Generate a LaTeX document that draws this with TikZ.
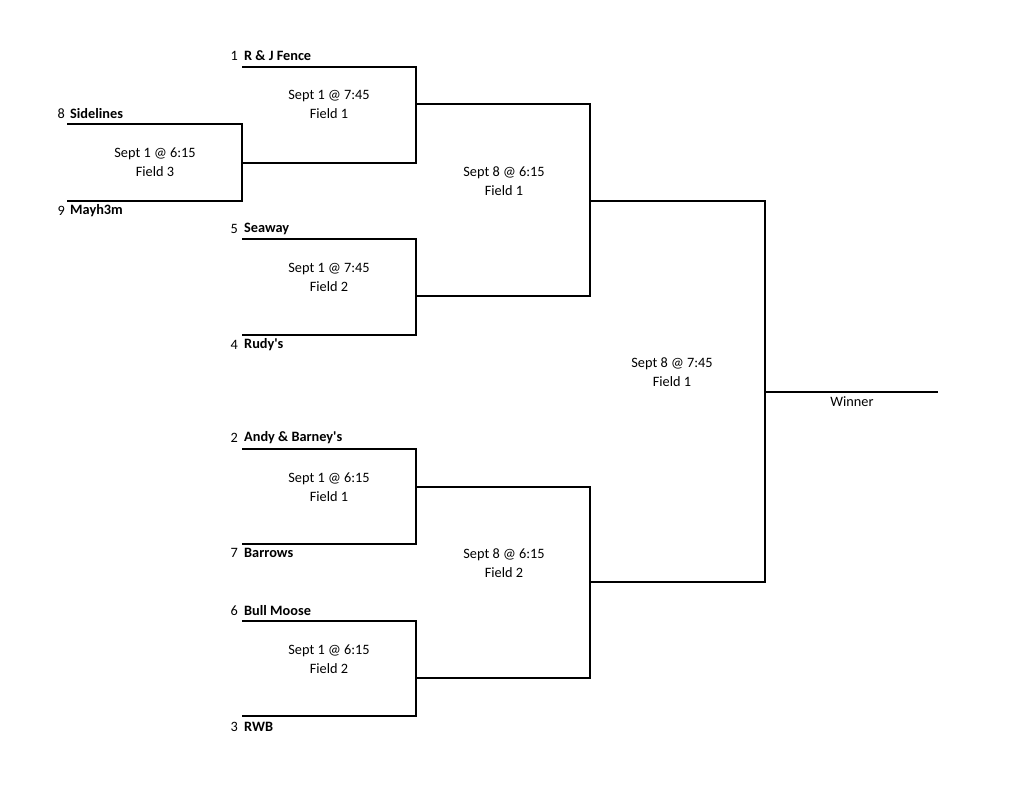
\documentclass[tikz,border=0pt]{standalone}
\usepackage{fontspec}
\setmainfont{Carlito}
\begin{document}
\begin{tikzpicture}[x=1pt,y=-1pt,
  bline/.style={line width=2.7pt, line join=miter},
  txt/.style={inner sep=0pt, font=\fontsize{14.3}{19}\selectfont},
  seed/.style={txt, anchor=east},
  team/.style={txt, anchor=west, font=\fontsize{14.3}{19}\selectfont\bfseries},
  game/.style={txt, align=center}]
\useasboundingbox (0,0) rectangle (1024,791);
% --- round 0: Sidelines vs Mayh3m
\node[seed] (n8) at (65,114) {8};
\node[team] (t8) at (70,114) {Sidelines};
\node[seed] (n9) at (65,211) {9};
\node[team] (t9) at (70,211) {Mayh3m};
\node[game] (g0) at (155,162) {Sept 1 @ 6:15\\Field 3};
\coordinate (a8) at (67,124); \coordinate (b8) at (242,124);
\coordinate (a9) at (67,201); \coordinate (b9) at (242,201);
\draw[bline] (a8) -- (b8) -- (b9) -- (a9);
% --- round 1 top
\node[seed] (n1) at (238,56) {1};
\node[team] (t1) at (244,56) {R \& J Fence};
\node[game] (g1) at (329,104) {Sept 1 @ 7:45\\Field 1};
\coordinate (a1) at (242,67); \coordinate (b1) at (416,67);
\coordinate (a89) at (242,163); \coordinate (b89) at (416,163);
\draw[bline] (a1) -- (b1) -- (b89) -- (a89);
\node[seed] (n5) at (238,229) {5};
\node[team] (t5) at (244,229) {Seaway};
\node[seed] (n4) at (238,345) {4};
\node[team] (t4) at (244,345) {Rudy\textquotesingle s};
\node[game] (g2) at (329,277) {Sept 1 @ 7:45\\Field 2};
\coordinate (a5) at (242,239); \coordinate (b5) at (416,239);
\coordinate (a4) at (242,335); \coordinate (b4) at (416,335);
\draw[bline] (a5) -- (b5) -- (b4) -- (a4);
% --- round 1 bottom
\node[seed] (n2) at (238,438) {2};
\node[team] (t2) at (244,438) {Andy \& Barney\textquotesingle s};
\node[seed] (n7) at (238,553) {7};
\node[team] (t7) at (244,553) {Barrows};
\node[game] (g3) at (329,487) {Sept 1 @ 6:15\\Field 1};
\coordinate (a2) at (242,449); \coordinate (b2) at (416,449);
\coordinate (a7) at (242,544); \coordinate (b7) at (416,544);
\draw[bline] (a2) -- (b2) -- (b7) -- (a7);
\node[seed] (n6) at (238,611) {6};
\node[team] (t6) at (244,611) {Bull Moose};
\node[seed] (n3) at (238,727) {3};
\node[team] (t3) at (244,727) {RWB};
\node[game] (g4) at (329,659) {Sept 1 @ 6:15\\Field 2};
\coordinate (a6) at (242,621); \coordinate (b6) at (416,621);
\coordinate (a3) at (242,716); \coordinate (b3) at (416,716);
\draw[bline] (a6) -- (b6) -- (b3) -- (a3);
% --- round 2
\node[game] (g5) at (504,181) {Sept 8 @ 6:15\\Field 1};
\coordinate (c1) at (416,104); \coordinate (d1) at (590,104);
\coordinate (c2) at (416,296); \coordinate (d2) at (590,296);
\draw[bline] (c1) -- (d1) -- (d2) -- (c2);
\node[game] (g6) at (504,563) {Sept 8 @ 6:15\\Field 2};
\coordinate (c3) at (416,487); \coordinate (d3) at (590,487);
\coordinate (c4) at (416,678); \coordinate (d4) at (590,678);
\draw[bline] (c3) -- (d3) -- (d4) -- (c4);
% --- final
\node[game] (g7) at (672,372) {Sept 8 @ 7:45\\Field 1};
\coordinate (e1) at (590,201); \coordinate (f1) at (765,201);
\coordinate (e2) at (590,582); \coordinate (f2) at (765,582);
\draw[bline] (e1) -- (f1) -- (f2) -- (e2);
\coordinate (w0) at (765,392); \coordinate (w1) at (938,392);
\draw[bline] (w0) -- (w1);
\node[txt] (win) at (852,402) {Winner};
\end{tikzpicture}
\end{document}
